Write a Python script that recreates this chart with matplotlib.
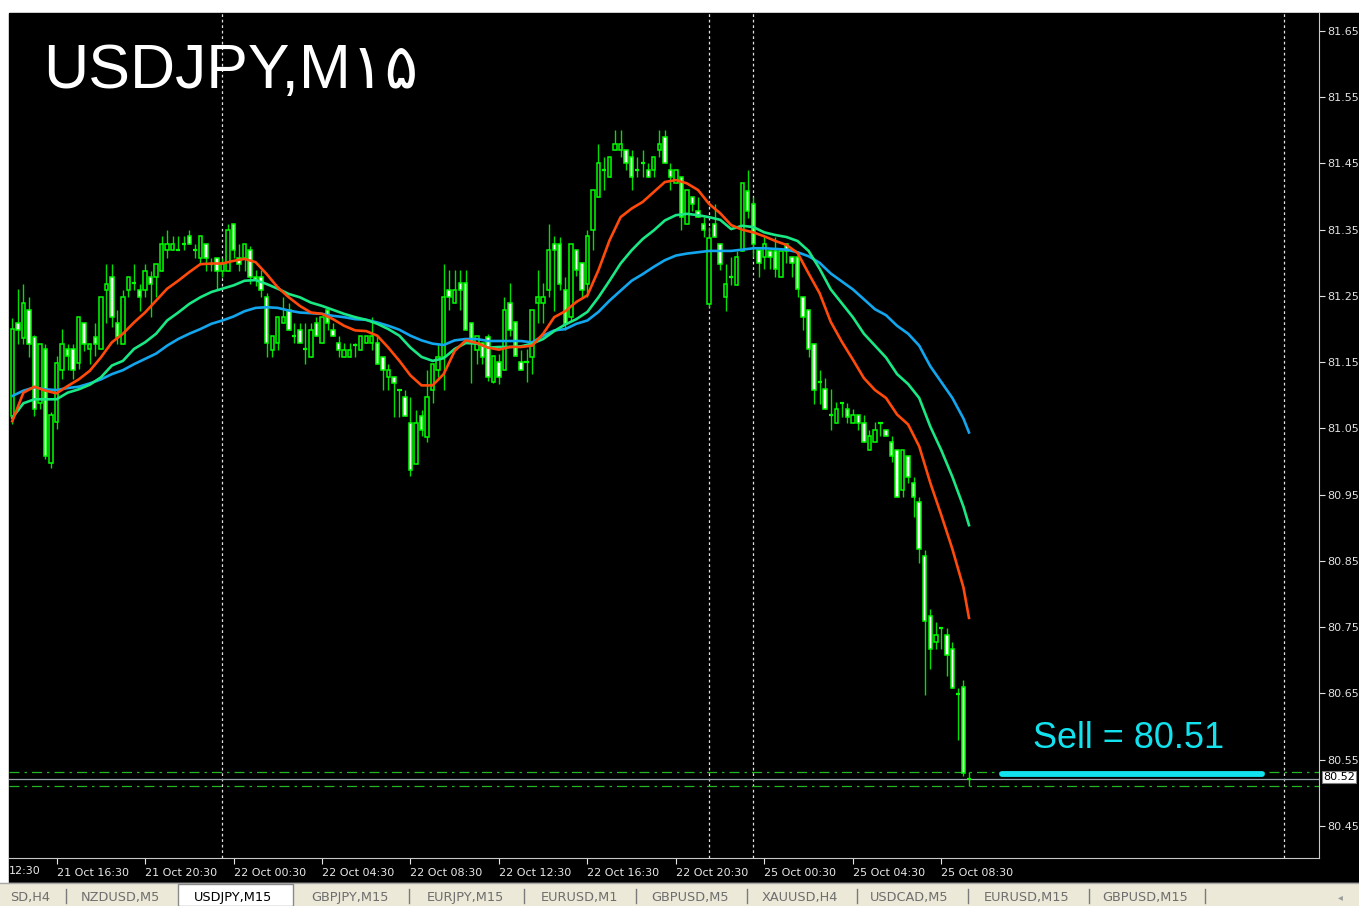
import matplotlib
matplotlib.use("Agg")
import matplotlib.pyplot as plt
from matplotlib.patches import Rectangle
import numpy as np
import pandas as pd

# USDJPY M15 candles (21 Oct 14:30 .. 22 Oct 21:45, 24 Oct 22:00 .. 25 Oct 09:45)
o = [81.069, 81.209, 81.187, 81.229, 81.188, 81.088, 81.170, 80.998, 81.059, 81.138,
     81.170, 81.170, 81.149, 81.209, 81.170, 81.188, 81.170, 81.259, 81.278, 81.209,
     81.178, 81.259, 81.269, 81.259, 81.259, 81.278, 81.278, 81.288, 81.319, 81.319,
     81.319, 81.329, 81.340, 81.319, 81.308, 81.329, 81.299, 81.308, 81.288, 81.288,
     81.359, 81.308, 81.308, 81.319, 81.279, 81.278, 81.249, 81.169, 81.179, 81.209,
     81.229, 81.189, 81.199, 81.170, 81.158, 81.209, 81.179, 81.229, 81.199, 81.179,
     81.158, 81.158, 81.176, 81.169, 81.179, 81.179, 81.179, 81.158, 81.128, 81.128,
     81.108, 81.098, 81.058, 80.997, 81.069, 81.037, 81.108, 81.138, 81.158, 81.259,
     81.239, 81.269, 81.269, 81.209, 81.169, 81.179, 81.188, 81.120, 81.150, 81.138,
     81.239, 81.210, 81.150, 81.150, 81.158, 81.239, 81.239, 81.259, 81.329, 81.329,
     81.259, 81.218, 81.319, 81.300, 81.268, 81.349, 81.400, 81.440, 81.430, 81.470,
     81.470, 81.470, 81.460, 81.440, 81.450, 81.440, 81.440, 81.470, 81.490, 81.440,
     81.420, 81.430, 81.359, 81.400, 81.379, 81.359, 81.238, 81.359, 81.329, 81.248,
     81.278, 81.267, 81.318, 81.409, 81.389, 81.320, 81.309, 81.318, 81.318, 81.278,
     81.328, 81.309, 81.309, 81.248, 81.229, 81.178, 81.120, 81.109, 81.070, 81.058,
     81.088, 81.079, 81.058, 81.070, 81.058, 81.018, 81.029, 81.058, 81.048, 81.029,
     81.018, 80.957, 81.008, 80.968, 80.939, 80.857, 80.767, 80.728, 80.748, 80.738,
     80.717, 80.649, 80.659, 80.521]
h = [81.217, 81.261, 81.268, 81.249, 81.191, 81.178, 81.178, 81.075, 81.160, 81.200,
     81.178, 81.178, 81.218, 81.209, 81.178, 81.209, 81.249, 81.299, 81.299, 81.229,
     81.259, 81.278, 81.299, 81.268, 81.299, 81.288, 81.299, 81.340, 81.350, 81.340,
     81.340, 81.340, 81.350, 81.329, 81.340, 81.329, 81.308, 81.308, 81.308, 81.359,
     81.359, 81.329, 81.329, 81.325, 81.289, 81.289, 81.255, 81.189, 81.219, 81.249,
     81.239, 81.209, 81.209, 81.209, 81.209, 81.219, 81.219, 81.229, 81.209, 81.189,
     81.179, 81.179, 81.179, 81.189, 81.189, 81.219, 81.189, 81.158, 81.148, 81.128,
     81.108, 81.108, 81.098, 81.078, 81.078, 81.138, 81.148, 81.179, 81.299, 81.289,
     81.289, 81.289, 81.289, 81.209, 81.189, 81.179, 81.193, 81.160, 81.163, 81.249,
     81.269, 81.210, 81.168, 81.170, 81.229, 81.289, 81.269, 81.359, 81.340, 81.339,
     81.279, 81.329, 81.319, 81.300, 81.350, 81.410, 81.480, 81.460, 81.460, 81.500,
     81.500, 81.470, 81.470, 81.460, 81.470, 81.450, 81.460, 81.500, 81.500, 81.450,
     81.440, 81.430, 81.410, 81.400, 81.400, 81.369, 81.354, 81.389, 81.329, 81.299,
     81.309, 81.318, 81.420, 81.440, 81.400, 81.320, 81.339, 81.318, 81.339, 81.318,
     81.328, 81.309, 81.318, 81.248, 81.229, 81.178, 81.138, 81.126, 81.109, 81.090,
     81.088, 81.088, 81.079, 81.070, 81.070, 81.048, 81.059, 81.058, 81.048, 81.038,
     81.018, 81.018, 81.008, 80.977, 80.947, 80.866, 80.778, 80.758, 80.748, 80.748,
     80.728, 80.658, 80.670, 80.531]
l = [81.057, 81.177, 81.177, 81.158, 81.069, 81.079, 81.004, 80.991, 81.049, 81.124,
     81.138, 81.124, 81.140, 81.167, 81.148, 81.159, 81.170, 81.209, 81.203, 81.178,
     81.178, 81.249, 81.259, 81.228, 81.249, 81.218, 81.249, 81.288, 81.308, 81.319,
     81.319, 81.319, 81.329, 81.308, 81.298, 81.288, 81.288, 81.259, 81.278, 81.288,
     81.308, 81.288, 81.288, 81.268, 81.265, 81.249, 81.158, 81.158, 81.169, 81.209,
     81.199, 81.179, 81.179, 81.148, 81.158, 81.189, 81.179, 81.199, 81.189, 81.158,
     81.158, 81.158, 81.158, 81.169, 81.179, 81.169, 81.148, 81.108, 81.108, 81.068,
     81.068, 81.069, 80.978, 80.997, 81.039, 81.029, 81.088, 81.128, 81.108, 81.229,
     81.239, 81.229, 81.199, 81.118, 81.148, 81.148, 81.122, 81.118, 81.117, 81.138,
     81.189, 81.160, 81.138, 81.120, 81.132, 81.209, 81.209, 81.249, 81.228, 81.259,
     81.198, 81.213, 81.280, 81.248, 81.248, 81.319, 81.400, 81.410, 81.430, 81.470,
     81.460, 81.440, 81.410, 81.430, 81.430, 81.430, 81.430, 81.460, 81.450, 81.410,
     81.420, 81.349, 81.359, 81.379, 81.369, 81.339, 81.233, 81.339, 81.289, 81.228,
     81.266, 81.267, 81.318, 81.367, 81.309, 81.278, 81.291, 81.291, 81.278, 81.278,
     81.300, 81.278, 81.248, 81.199, 81.158, 81.087, 81.087, 81.079, 81.048, 81.058,
     81.068, 81.058, 81.058, 81.048, 81.029, 81.018, 81.029, 81.038, 81.038, 80.999,
     80.947, 80.947, 80.968, 80.916, 80.847, 80.647, 80.687, 80.717, 80.717, 80.677,
     80.658, 80.579, 80.525, 80.510]
c = [81.200, 81.199, 81.239, 81.178, 81.079, 81.178, 81.009, 81.070, 81.149, 81.178,
     81.159, 81.138, 81.218, 81.178, 81.178, 81.178, 81.249, 81.268, 81.218, 81.188,
     81.249, 81.278, 81.269, 81.249, 81.288, 81.268, 81.299, 81.329, 81.329, 81.329,
     81.319, 81.329, 81.329, 81.319, 81.340, 81.308, 81.299, 81.288, 81.299, 81.350,
     81.319, 81.298, 81.329, 81.279, 81.274, 81.259, 81.179, 81.189, 81.219, 81.219,
     81.199, 81.189, 81.179, 81.170, 81.199, 81.189, 81.219, 81.209, 81.189, 81.169,
     81.169, 81.169, 81.176, 81.189, 81.189, 81.189, 81.148, 81.138, 81.138, 81.118,
     81.108, 81.069, 80.988, 81.058, 81.047, 81.098, 81.148, 81.158, 81.249, 81.249,
     81.259, 81.259, 81.199, 81.179, 81.189, 81.158, 81.127, 81.160, 81.127, 81.229,
     81.199, 81.160, 81.138, 81.150, 81.229, 81.249, 81.249, 81.319, 81.319, 81.268,
     81.208, 81.329, 81.289, 81.259, 81.340, 81.410, 81.450, 81.440, 81.460, 81.480,
     81.480, 81.450, 81.430, 81.440, 81.450, 81.430, 81.460, 81.480, 81.450, 81.430,
     81.440, 81.369, 81.410, 81.389, 81.369, 81.349, 81.338, 81.339, 81.299, 81.268,
     81.278, 81.309, 81.420, 81.379, 81.328, 81.300, 81.328, 81.309, 81.291, 81.318,
     81.318, 81.300, 81.260, 81.218, 81.170, 81.108, 81.120, 81.079, 81.070, 81.079,
     81.088, 81.068, 81.070, 81.058, 81.029, 81.038, 81.048, 81.058, 81.038, 81.008,
     80.947, 81.018, 80.977, 80.947, 80.868, 80.759, 80.717, 80.738, 80.748, 80.708,
     80.658, 80.649, 80.530, 80.521]

# moving averages every second bar
ma_idx = list(range(0, 173, 2)) + [173]
ma_fast = [81.061, 81.104, 81.113, 81.107, 81.103, 81.114, 81.124, 81.137, 81.157, 81.180,
           81.193, 81.210, 81.225, 81.243, 81.261, 81.273, 81.286, 81.298, 81.299, 81.299,
           81.303, 81.306, 81.301, 81.283, 81.263, 81.248, 81.235, 81.225, 81.223, 81.215,
           81.205, 81.198, 81.197, 81.190, 81.172, 81.152, 81.130, 81.115, 81.115, 81.132,
           81.167, 81.183, 81.179, 81.172, 81.169, 81.173, 81.173, 81.175, 81.193, 81.218,
           81.227, 81.241, 81.251, 81.289, 81.334, 81.369, 81.382, 81.392, 81.407, 81.422,
           81.425, 81.420, 81.410, 81.389, 81.375, 81.357, 81.350, 81.346, 81.340, 81.333,
           81.327, 81.315, 81.284, 81.254, 81.211, 81.181, 81.154, 81.126, 81.108, 81.096,
           81.071, 81.056, 81.023, 80.968, 80.919, 80.868, 80.810, 80.764]
ma_mid = [81.066, 81.088, 81.094, 81.094, 81.094, 81.104, 81.109, 81.116, 81.127, 81.145,
          81.152, 81.170, 81.180, 81.193, 81.213, 81.225, 81.238, 81.248, 81.256, 81.261,
          81.266, 81.273, 81.274, 81.268, 81.261, 81.253, 81.248, 81.240, 81.235, 81.229,
          81.223, 81.218, 81.214, 81.208, 81.200, 81.190, 81.172, 81.158, 81.152, 81.156,
          81.170, 81.179, 81.178, 81.172, 81.173, 81.173, 81.174, 81.178, 81.185, 81.197,
          81.207, 81.215, 81.226, 81.248, 81.273, 81.299, 81.319, 81.336, 81.349, 81.364,
          81.372, 81.374, 81.372, 81.369, 81.365, 81.351, 81.356, 81.354, 81.346, 81.342,
          81.339, 81.333, 81.318, 81.291, 81.260, 81.239, 81.218, 81.193, 81.175, 81.157,
          81.132, 81.117, 81.096, 81.053, 81.017, 80.977, 80.932, 80.904]
ma_slow = [81.099, 81.107, 81.112, 81.109, 81.108, 81.111, 81.113, 81.118, 81.124, 81.132,
           81.138, 81.147, 81.155, 81.163, 81.175, 81.185, 81.193, 81.200, 81.208, 81.213,
           81.219, 81.227, 81.232, 81.233, 81.232, 81.228, 81.225, 81.224, 81.223, 81.220,
           81.218, 81.215, 81.214, 81.210, 81.205, 81.199, 81.190, 81.183, 81.178, 81.176,
           81.183, 81.185, 81.185, 81.182, 81.182, 81.182, 81.182, 81.180, 81.190, 81.198,
           81.200, 81.208, 81.213, 81.226, 81.243, 81.258, 81.273, 81.283, 81.294, 81.304,
           81.311, 81.314, 81.316, 81.318, 81.318, 81.318, 81.320, 81.322, 81.322, 81.321,
           81.320, 81.316, 81.310, 81.300, 81.284, 81.272, 81.260, 81.245, 81.230, 81.221,
           81.205, 81.193, 81.175, 81.144, 81.120, 81.096, 81.065, 81.044]

price_ticks = [81.65, 81.55, 81.45, 81.35, 81.25, 81.15, 81.05, 80.95, 80.85, 80.75, 80.65, 80.55, 80.45]
bid = 80.521
level_lines = [80.531, 80.510]
sell_line = 80.528
sell_text = "Sell = 80.51"
tabs = ["SD,H4", "NZDUSD,M5", "USDJPY,M15", "GBPJPY,M15", "EURJPY,M15", "EURUSD,M1",
        "GBPUSD,M5", "XAUUSD,H4", "USDCAD,M5", "EURUSD,M15", "GBPUSD,M15"]

times = pd.DatetimeIndex(list(pd.date_range("2010-10-21 14:30", "2010-10-22 21:45", freq="15min")) +
                         list(pd.date_range("2010-10-24 22:00", periods=48, freq="15min")))

W, H = 1359, 906
fig = plt.figure(figsize=(W / 100, H / 100), dpi=100, facecolor="white")

def fx(px):
    return px / W

def fy(py):
    return 1 - py / H

# black chart window and tab bar (behind the axes)
fig.patches.append(Rectangle((fx(9), fy(883)), fx(W - 9), (883 - 13) / H,
                             transform=fig.transFigure, color="black", zorder=-5))
fig.patches.append(Rectangle((0, 0), 1, 23 / H, transform=fig.transFigure,
                             color="#ECE9D8", zorder=-5))
fig.lines.append(plt.Line2D([0, 1], [fy(883), fy(883)], transform=fig.transFigure,
                            color="#A8A8A8", lw=1, zorder=-4))

ax = fig.add_axes([fx(9), fy(858), fx(1319 - 9), (858 - 13) / H])
ax.set_zorder(1)
ax.set_facecolor("black")
x = np.arange(len(o))
ax.set_xlim(-0.6, 236.3)
ax.set_ylim(80.4015, 81.6772)

# wicks
ax.vlines(x, l, h, color="#00E000", lw=1, zorder=2)
# bodies
op = np.array(o)
cl = np.array(c)
lo = np.minimum(op, cl)
ht = np.abs(cl - op)
body = ht > 0.003
face = np.where(cl > op, "black", "white")
ax.bar(x[body], ht[body], bottom=lo[body], width=0.62, color=face[body],
       edgecolor="#00FF00", linewidth=1.1, zorder=3)
dj = ~body
ax.hlines(((op + cl) / 2)[dj], x[dj] - 0.38, x[dj] + 0.38, color="#00FF00", lw=1.6, zorder=3)

# moving averages
ax.plot(ma_idx, ma_slow, color="#12A6EE", lw=1.9, zorder=4)
ax.plot(ma_idx, ma_mid, color="#19E884", lw=1.9, zorder=4)
ax.plot(ma_idx, ma_fast, color="#FF4A0A", lw=1.9, zorder=4)

# period separators
new_day = [i for i in range(1, len(times)) if times[i].date() != times[i - 1].date()]
nxt = (times[-1].normalize() + pd.Timedelta(days=1) - times[-1]) // pd.Timedelta(minutes=15)
new_day.append(len(times) - 1 + nxt)
for i in new_day:
    ax.axvline(i, color="#E0E0E0", lw=0.9, ls=(0, (2.2, 2.2)), zorder=1)

# order / bid lines
for lv in level_lines:
    ax.axhline(lv, color="#22B422", lw=0.9, ls=(0, (8, 4, 2, 4)), zorder=1)
ax.axhline(bid, color="#9AA4AE", lw=0.9, zorder=1)
ax.plot([179, 226], [sell_line, sell_line], color="#12E2EE", lw=4.2,
        solid_capstyle="round", zorder=5)
ax.text(184.6, 80.568, sell_text, color="#12E2EE", fontsize=26,
        family=["Liberation Sans", "DejaVu Sans"], ha="left", va="baseline")

# axes styling
for s in ["left", "top"]:
    ax.spines[s].set_visible(False)
for s in ["right", "bottom"]:
    ax.spines[s].set_color("#C8C8C8")
ax.yaxis.tick_right()
ax.set_yticks(price_ticks)
ax.set_yticklabels([f"{p:.2f}" for p in price_ticks])
ax.tick_params(axis="y", colors="#E0E0E0", labelsize=8, length=4, pad=2, width=0.8)
tick_idx = [i for i, t in enumerate(times) if t.minute == 30 and t.hour % 4 == 0]
ax.set_xticks(tick_idx)
ax.set_xticklabels([times[i].strftime("%d %b %H:%M") for i in tick_idx], ha="left")
ax.tick_params(axis="x", colors="#E8E8E8", labelsize=8, length=4, pad=3, width=0.8)
fig.text(fx(9), fy(871), "12:30", color="#E8E8E8", fontsize=8, va="center", ha="left")

# bid price box on the scale
fig.text(fx(1323), fy(777), f"{bid:.2f}", color="black", fontsize=8, va="center", ha="left",
         bbox=dict(boxstyle="square,pad=0.12", fc="white", ec="#808080", lw=0.8), zorder=5)

# symbol title
fig.text(fx(43), fy(88), "USDJPY,M۱۵", color="white", fontsize=45,
         family=["Liberation Sans", "DejaVu Sans"], ha="left", va="baseline", zorder=5)

# terminal tabs
tab_centers = [30, 120, 233, 350, 465, 579, 690, 800, 909, 1027, 1145]
tab_seps = [66, 409, 524, 636, 747, 857, 968, 1089, 1205]
fig.patches.append(Rectangle((fx(178), 0), fx(293 - 178), 22 / H, transform=fig.transFigure,
                             fc="white", ec="#8A8A8A", lw=1, zorder=-3))
for sx in tab_seps:
    fig.lines.append(plt.Line2D([fx(sx), fx(sx)], [fy(903), fy(889)], transform=fig.transFigure,
                                color="#7A7A7A", lw=1))
for name, cx in zip(tabs, tab_centers):
    fig.text(fx(cx), fy(897), name, fontsize=9.3, ha="center", va="center",
             color="black" if name == "USDJPY,M15" else "#6E6E6E", zorder=2)
fig.text(fx(1340), fy(897), "◂", fontsize=7, ha="center", va="center", color="#9A9A9A")

fig.savefig("out.png", dpi=100, facecolor="white")
